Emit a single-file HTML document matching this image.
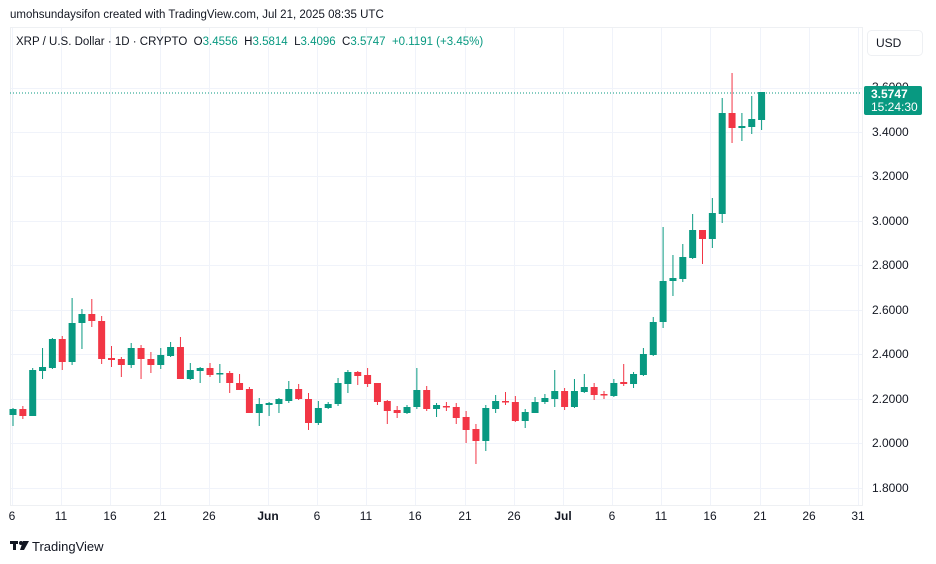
<!DOCTYPE html>
<html><head><meta charset="utf-8"><style>
body{margin:0;background:#fff;width:936px;height:564px;overflow:hidden;font-family:"Liberation Sans",sans-serif}
svg{position:absolute;left:0;top:0}
</style></head><body>
<svg id="s" width="936" height="564" xmlns="http://www.w3.org/2000/svg" font-family="Liberation Sans, sans-serif">
<rect width="936" height="564" fill="#fff"/>
<text x="10" y="18" font-size="11.5" fill="#131722">umohsundaysifon created with TradingView.com, Jul 21, 2025 08:35 UTC</text>
<rect x="10.5" y="27.5" width="852" height="478" fill="none" stroke="#eef0f3"/>
<g id="grid" stroke="#f0f3fa" stroke-width="1"></g>
<text x="16" y="45" font-size="11.5" fill="#131722" xml:space="preserve" style="white-space:pre">XRP / U.S. Dollar · 1D · CRYPTO  O<tspan fill="#089981">3.4556</tspan>  H<tspan fill="#089981">3.5814</tspan>  L<tspan fill="#089981">3.4096</tspan>  C<tspan fill="#089981">3.5747</tspan>  <tspan fill="#089981">+0.1191 (+3.45%)</tspan></text>
<rect x="867.5" y="30.5" width="55" height="25" rx="4" fill="#fff" stroke="#eef0f3"/>
<text x="876" y="47" font-size="12" fill="#131722">USD</text>
<g font-size="12" fill="#131722">
<text x="872" y="91">3.6000</text>
<text x="872" y="136">3.4000</text>
<text x="872" y="180">3.2000</text>
<text x="872" y="225">3.0000</text>
<text x="872" y="269">2.8000</text>
<text x="872" y="314">2.6000</text>
<text x="872" y="358">2.4000</text>
<text x="872" y="403">2.2000</text>
<text x="872" y="447">2.0000</text>
<text x="872" y="492">1.8000</text>
</g>
<g font-size="12" fill="#131722" text-anchor="middle">
<text x="12" y="520">6</text><text x="61" y="520">11</text><text x="110" y="520">16</text><text x="160" y="520">21</text><text x="209" y="520">26</text><text x="268" y="520" font-weight="bold">Jun</text><text x="317" y="520">6</text><text x="366" y="520">11</text><text x="415" y="520">16</text><text x="465" y="520">21</text><text x="514" y="520">26</text><text x="563" y="520" font-weight="bold">Jul</text><text x="612" y="520">6</text><text x="661" y="520">11</text><text x="710" y="520">16</text><text x="760" y="520">21</text><text x="809" y="520">26</text><text x="858" y="520">31</text>
</g>
<line x1="10" y1="93" x2="862" y2="93" stroke="#089981" stroke-dasharray="1,2"/>
<g id="c"></g>
<rect x="864" y="86" width="58" height="29" rx="2" fill="#089981"/>
<text x="871" y="98" font-size="12" font-weight="bold" fill="#fff">3.5747</text>
<text x="871" y="111" font-size="12" fill="#fff">15:24:30</text>
<g fill="#131722"><rect x="10" y="541" width="8" height="3"/><rect x="13" y="541" width="3" height="9"/><circle cx="21" cy="543" r="2"/><path d="M23 541h6l-5 9h-4z"/></g>
<text x="32" y="551" font-size="13" fill="#131722">TradingView</text>
</svg>
<script>
var g=document.getElementById('grid'),ns='http://www.w3.org/2000/svg';
[12,61,110,160,209,268,317,366,415,465,514,563,612,661,710,760,809,858].forEach(function(x){var l=document.createElementNS(ns,'line');l.setAttribute('x1',x+.5);l.setAttribute('x2',x+.5);l.setAttribute('y1',28);l.setAttribute('y2',505);g.appendChild(l);});
[88,132,176,221,265,310,354,399,443,488].forEach(function(y){var l=document.createElementNS(ns,'line');l.setAttribute('x1',11);l.setAttribute('x2',862);l.setAttribute('y1',y+.5);l.setAttribute('y2',y+.5);g.appendChild(l);});
var d=[[409,415,408,426,1],[409,416,406,419,0],[370,416,368,416,1],[367,371,348,379,1],[339,368,338,369,1],[339,362,336,370,0],[323,362,298,365,1],[314,323,309,349,1],[314,321,299,327,0],[321,359,316,364,0],[358,360,346,367,0],[359,365,357,377,0],[348,365,343,368,1],[348,359,345,379,0],[359,365,352,373,0],[355,365,348,369,1],[347,356,342,357,1],[347,379,337,379,0],[370,379,363,380,1],[368,371,367,383,1],[368,375,363,377,0],[373,374,364,383,1],[373,383,371,393,0],[383,390,374,390,0],[389,413,387,413,0],[404,413,398,426,1],[403,405,402,416,1],[399,404,398,413,1],[389,401,381,403,1],[389,399,384,400,0],[399,423,393,430,0],[408,423,401,425,1],[404,408,402,409,1],[383,404,378,406,1],[372,384,370,393,1],[372,376,371,385,0],[375,384,368,387,0],[383,402,383,405,0],[401,411,400,424,0],[410,413,406,418,0],[407,413,405,414,1],[390,407,368,409,1],[390,409,386,411,0],[405,409,403,417,1],[406,407,402,411,0],[407,418,403,424,0],[417,430,411,443,0],[429,441,424,464,0],[408,441,405,451,1],[401,409,395,413,1],[401,402,392,405,0],[402,421,396,422,0],[412,421,409,428,1],[402,413,397,413,1],[398,402,394,404,1],[391,399,370,407,1],[391,407,388,410,0],[391,407,379,408,1],[387,392,374,393,1],[387,395,383,400,0],[394,395,391,399,0],[383,396,379,397,1],[382,384,364,386,0],[374,384,372,388,1],[354,375,348,376,1],[322,355,317,356,1],[281,322,227,328,1],[278,281,255,296,1],[257,279,244,282,1],[230,258,214,259,1],[230,239,230,264,0],[213,239,198,248,1],[113,214,98,223,1],[113,128,73,143,0],[126,128,113,141,1],[119,127,96,134,1],[92,120,92,130,1]];
var c=document.getElementById('c');
d.forEach(function(k,i){var x=13+i*9.85,col=k[4]?'#089981':'#F23645';
var w=document.createElementNS(ns,'line');w.setAttribute('x1',x);w.setAttribute('x2',x);w.setAttribute('y1',k[2]);w.setAttribute('y2',k[3]);w.setAttribute('stroke',col);c.appendChild(w);
var r=document.createElementNS(ns,'rect');r.setAttribute('x',x-3.5);r.setAttribute('width',7);r.setAttribute('y',k[0]);r.setAttribute('height',Math.max(1.5,k[1]-k[0]));r.setAttribute('fill',col);c.appendChild(r);});
</script>
</body></html>
